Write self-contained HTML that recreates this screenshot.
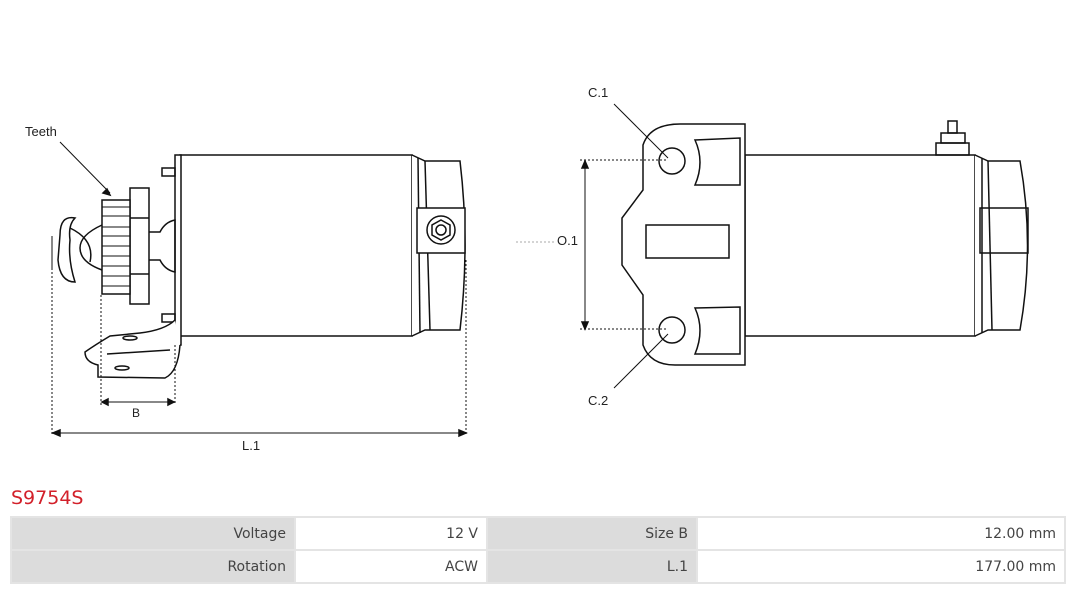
<!DOCTYPE html>
<html><head><meta charset="utf-8"><style>
body{margin:0;width:1080px;height:589px;background:#fff;font-family:"DejaVu Sans","Liberation Sans",sans-serif;overflow:hidden;position:relative}
svg{position:absolute;left:0;top:0}
.t{position:absolute;left:11px;top:487px;color:#d2202a;font-size:19px}
table{position:absolute;left:10px;top:516px;width:1056px;border-collapse:separate;border-spacing:2px;background:#e4e4e4;font-size:14px;color:#444}
td{height:31px;padding:0 8px;text-align:right}
td.l{background:#dcdcdc}td.v{background:#fff}
</style></head><body>
<svg width="1080" height="480" viewBox="0 0 1080 480" fill="none" stroke="#111" stroke-width="1.5" font-family="Liberation Sans, sans-serif">
<text x="25" y="136" font-size="13" fill="#222" stroke="none">Teeth</text>
<line x1="60" y1="142" x2="110" y2="193" stroke-width="1"/><path d="M110 195 l-7-2 4-4z" fill="#111"/>
<rect x="180" y="155" width="232" height="181" fill="#fff"/>
<rect x="175" y="155" width="6" height="190" fill="#fff"/>
<path d="M412 155 L425 161 L460 161 Q470 245 460 330 L425 330 L412 336" fill="#fff"/>
<line x1="418" y1="158" x2="420" y2="333"/><line x1="425" y1="161" x2="430" y2="330"/>
<rect x="417" y="208" width="48" height="45" fill="#fff"/>
<circle cx="441" cy="230" r="14"/><polygon points="441,220 450,225 450,235 441,240 432,235 432,225"/><circle cx="441" cy="230" r="5"/>
<rect x="162" y="168" width="13" height="8"/><rect x="162" y="314" width="13" height="8"/>
<rect x="130" y="188" width="19" height="116" fill="#fff"/>
<line x1="130" y1="218" x2="149" y2="218"/><line x1="130" y1="274" x2="149" y2="274"/>
<rect x="102" y="200" width="28" height="94" fill="#fff"/>
<g stroke-width="1"><line x1="102" y1="207" x2="130" y2="207"/><line x1="102" y1="216" x2="130" y2="216"/><line x1="102" y1="227" x2="130" y2="227"/><line x1="102" y1="236" x2="130" y2="236"/><line x1="102" y1="246" x2="130" y2="246"/><line x1="102" y1="256" x2="130" y2="256"/><line x1="102" y1="266" x2="130" y2="266"/><line x1="102" y1="276" x2="130" y2="276"/><line x1="102" y1="286" x2="130" y2="286"/></g>
<path d="M149 232 L160 232 Q165 222 175 220 L175 272 Q165 270 160 260 L149 260"/>
<path d="M102 225 Q80 235 80 248 Q80 262 102 270"/><path d="M70 228 Q95 240 90 262"/>
<path d="M75 218 Q60 215 60 235 L58 260 Q60 282 75 282 Q68 260 70 240 Q68 225 75 218z" fill="#fff"/>
<path d="M52 236 L52 268" stroke-width="1"/>
<path d="M175 320 Q165 330 140 333 L110 336 Q95 345 85 352 Q85 362 98 365 L98 377 L165 378 Q178 372 180 345" fill="#fff"/>
<line x1="107" y1="354" x2="170" y2="350"/><ellipse cx="130" cy="338" rx="7" ry="2"/><ellipse cx="122" cy="368" rx="7" ry="2"/>
<g stroke-width="1" stroke-dasharray="2,2"><line x1="52" y1="260" x2="52" y2="434"/><line x1="101" y1="295" x2="101" y2="405"/><line x1="175" y1="345" x2="175" y2="405"/><line x1="466" y1="260" x2="466" y2="434"/></g>
<line x1="104" y1="402" x2="172" y2="402" stroke-width="1"/><path d="M102 402l6-3v6zM174 402l-6-3v6z" fill="#111"/>
<line x1="56" y1="433" x2="463" y2="433" stroke-width="1"/><path d="M53 433l7-3v6zM466 433l-7-3v6z" fill="#111"/>
<text x="132" y="417" font-size="12" fill="#222" stroke="none">B</text>
<text x="242" y="450" font-size="13" fill="#222" stroke="none">L.1</text>
<rect x="745" y="155" width="230" height="181" fill="#fff"/>
<path d="M975 155 L988 161 L1020 161 Q1035 245 1020 330 L988 330 L975 336" fill="#fff"/>
<line x1="982" y1="158" x2="982" y2="333"/><line x1="988" y1="161" x2="992" y2="330"/>
<rect x="980" y="208" width="48" height="45"/>
<rect x="936" y="143" width="33" height="12"/><rect x="941" y="133" width="24" height="10"/><rect x="948" y="121" width="9" height="12"/>
<path d="M745 124 L680 124 Q650 124 643 145 L643 190 L622 218 L622 265 L643 295 L643 345 Q650 365 675 365 L745 365 Z" fill="#fff"/>
<rect x="646" y="225" width="83" height="33"/>
<path d="M695 140 L740 138 L740 185 L695 185 Q705 162 695 140z"/>
<path d="M695 308 L740 307 L740 354 L695 354 Q705 330 695 308z"/>
<circle cx="672" cy="161" r="13"/><circle cx="672" cy="330" r="13"/>
<g stroke-width="1" stroke-dasharray="2,2"><line x1="580" y1="160" x2="668" y2="160"/><line x1="580" y1="329" x2="668" y2="329"/><line x1="516" y1="242" x2="556" y2="242" stroke="#aaa"/></g>
<line x1="585" y1="165" x2="585" y2="325" stroke-width="1"/><path d="M585 161l-3 7h6zM585 329l-3-7h6z" fill="#111"/>
<text x="557" y="245" font-size="13" fill="#222" stroke="none">O.1</text>
<text x="588" y="97" font-size="13" fill="#222" stroke="none">C.1</text>
<text x="588" y="405" font-size="13" fill="#222" stroke="none">C.2</text>
<line x1="614" y1="104" x2="668" y2="158" stroke-width="1"/><line x1="614" y1="388" x2="668" y2="334" stroke-width="1"/>
</svg>
<div class="t">S9754S</div>
<table><tr><td class="l" style="width:266px">Voltage</td><td class="v" style="width:174px">12 V</td><td class="l" style="width:192px">Size B</td><td class="v">12.00 mm</td></tr>
<tr><td class="l">Rotation</td><td class="v">ACW</td><td class="l">L.1</td><td class="v">177.00 mm</td></tr></table>
</body></html>
